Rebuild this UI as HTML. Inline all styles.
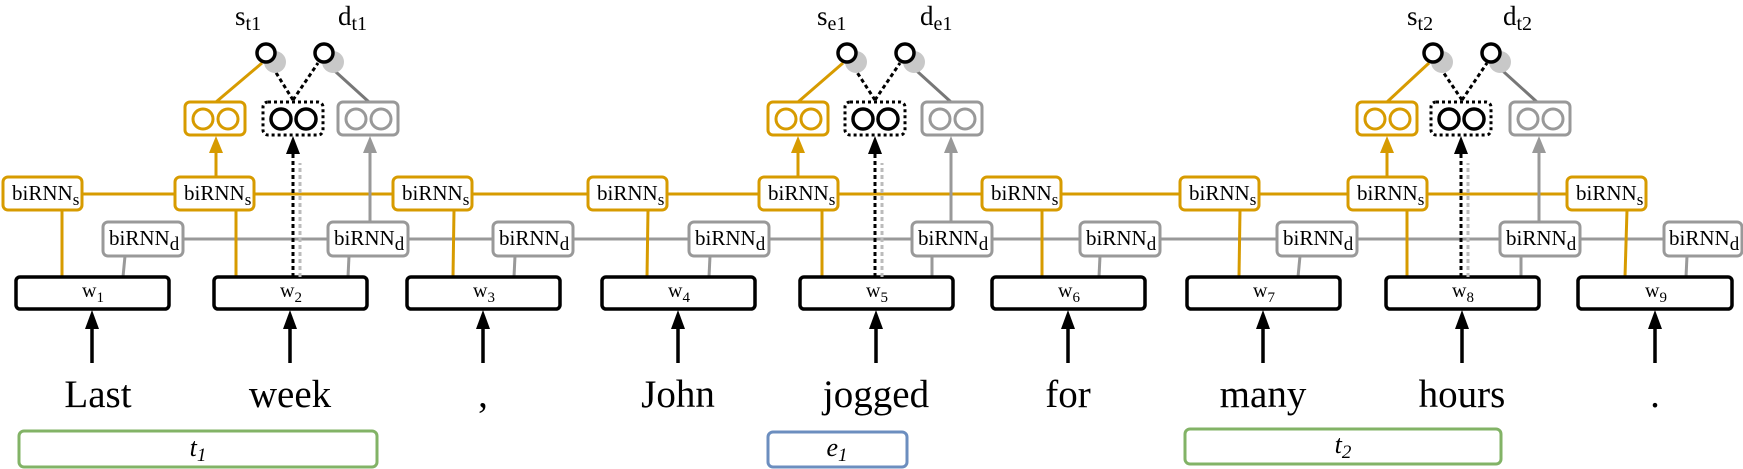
<!DOCTYPE html>
<html><head><meta charset="utf-8"><style>
html,body{margin:0;padding:0;background:#fff;}
svg{display:block;font-family:"Liberation Serif","Times New Roman",Times,serif;}
svg text{font-family:"Liberation Serif","Times New Roman",Times,serif;}
</style></head><body>
<svg width="1743" height="469" viewBox="0 0 1743 469" xmlns="http://www.w3.org/2000/svg" font-family="Liberation Serif, Times New Roman, Times, serif">
<g fill="none" stroke-width="3">
<line x1="40" y1="194" x2="1610" y2="194" stroke="#d79b00"/>
<line x1="140" y1="239" x2="1700" y2="239" stroke="#999"/>
<g stroke="#d79b00">
<line x1="62" y1="210" x2="62" y2="277"/>
<line x1="236" y1="210" x2="236" y2="277"/>
<line x1="454" y1="210" x2="453" y2="277"/>
<line x1="648" y1="210" x2="647" y2="277"/>
<line x1="822" y1="210" x2="822" y2="277"/>
<line x1="1042" y1="210" x2="1042" y2="277"/>
<line x1="1240" y1="210" x2="1239" y2="277"/>
<line x1="1407" y1="210" x2="1407" y2="277"/>
<line x1="1627" y1="210" x2="1625" y2="277"/>
</g>
<g stroke="#999">
<line x1="125" y1="256" x2="123" y2="277"/>
<line x1="349" y1="256" x2="348" y2="277"/>
<line x1="515" y1="256" x2="514" y2="277"/>
<line x1="710" y1="256" x2="709" y2="277"/>
<line x1="932" y1="256" x2="932" y2="277"/>
<line x1="1100" y1="256" x2="1099" y2="277"/>
<line x1="1300" y1="256" x2="1298" y2="277"/>
<line x1="1521" y1="256" x2="1521" y2="277"/>
<line x1="1687" y1="256" x2="1686" y2="277"/>
</g>
</g>

<g font-size="21">
<g fill="#fff" stroke="#d79b00" stroke-width="3">
<rect x="3" y="177" width="79" height="33" rx="5"/>
<rect x="175" y="177" width="79" height="33" rx="5"/>
<rect x="393" y="177" width="79" height="33" rx="5"/>
<rect x="588" y="177" width="79" height="33" rx="5"/>
<rect x="759" y="177" width="79" height="33" rx="5"/>
<rect x="982" y="177" width="79" height="33" rx="5"/>
<rect x="1180" y="177" width="79" height="33" rx="5"/>
<rect x="1348" y="177" width="79" height="33" rx="5"/>
<rect x="1567" y="177" width="79" height="33" rx="5"/>
</g>
<g fill="#000">
<text x="12" y="200">biRNN<tspan font-size="17" dy="5">s</tspan></text>
<text x="184" y="200">biRNN<tspan font-size="17" dy="5">s</tspan></text>
<text x="402" y="200">biRNN<tspan font-size="17" dy="5">s</tspan></text>
<text x="597" y="200">biRNN<tspan font-size="17" dy="5">s</tspan></text>
<text x="768" y="200">biRNN<tspan font-size="17" dy="5">s</tspan></text>
<text x="991" y="200">biRNN<tspan font-size="17" dy="5">s</tspan></text>
<text x="1189" y="200">biRNN<tspan font-size="17" dy="5">s</tspan></text>
<text x="1357" y="200">biRNN<tspan font-size="17" dy="5">s</tspan></text>
<text x="1576" y="200">biRNN<tspan font-size="17" dy="5">s</tspan></text>
</g>
<g fill="#fff" stroke="#999" stroke-width="3">
<rect x="103" y="222" width="80" height="34" rx="5"/>
<rect x="328" y="222" width="80" height="34" rx="5"/>
<rect x="493" y="222" width="80" height="34" rx="5"/>
<rect x="689" y="222" width="80" height="34" rx="5"/>
<rect x="912" y="222" width="80" height="34" rx="5"/>
<rect x="1080" y="222" width="80" height="34" rx="5"/>
<rect x="1277" y="222" width="80" height="34" rx="5"/>
<rect x="1500" y="222" width="80" height="34" rx="5"/>
<rect x="1664" y="222" width="78" height="34" rx="5"/>
</g>
<g fill="#000">
<text x="109" y="245">biRNN<tspan font-size="19" dy="5">d</tspan></text>
<text x="334" y="245">biRNN<tspan font-size="19" dy="5">d</tspan></text>
<text x="499" y="245">biRNN<tspan font-size="19" dy="5">d</tspan></text>
<text x="695" y="245">biRNN<tspan font-size="19" dy="5">d</tspan></text>
<text x="918" y="245">biRNN<tspan font-size="19" dy="5">d</tspan></text>
<text x="1086" y="245">biRNN<tspan font-size="19" dy="5">d</tspan></text>
<text x="1283" y="245">biRNN<tspan font-size="19" dy="5">d</tspan></text>
<text x="1506" y="245">biRNN<tspan font-size="19" dy="5">d</tspan></text>
<text x="1669" y="245">biRNN<tspan font-size="19" dy="5">d</tspan></text>
</g>
</g>

<g fill="#fff" stroke="#000" stroke-width="3.5">
<rect x="16" y="277" width="153" height="32" rx="4"/>
<rect x="214" y="277" width="153" height="32" rx="4"/>
<rect x="407" y="277" width="153" height="32" rx="4"/>
<rect x="602" y="277" width="153" height="32" rx="4"/>
<rect x="800" y="277" width="153" height="32" rx="4"/>
<rect x="992" y="277" width="153" height="32" rx="4"/>
<rect x="1187" y="277" width="153" height="32" rx="4"/>
<rect x="1386" y="277" width="153" height="32" rx="4"/>
<rect x="1578" y="277" width="154" height="32" rx="4"/>
</g>
<g font-size="20" fill="#000">
<text x="82" y="297">w<tspan font-size="15" dy="5">1</tspan></text>
<text x="280" y="297">w<tspan font-size="15" dy="5">2</tspan></text>
<text x="473" y="297">w<tspan font-size="15" dy="5">3</tspan></text>
<text x="668" y="297">w<tspan font-size="15" dy="5">4</tspan></text>
<text x="866" y="297">w<tspan font-size="15" dy="5">5</tspan></text>
<text x="1058" y="297">w<tspan font-size="15" dy="5">6</tspan></text>
<text x="1253" y="297">w<tspan font-size="15" dy="5">7</tspan></text>
<text x="1452" y="297">w<tspan font-size="15" dy="5">8</tspan></text>
<text x="1645" y="297">w<tspan font-size="15" dy="5">9</tspan></text>
</g>

<g stroke="#000" stroke-width="3.5">
<line x1="92" y1="363" x2="92" y2="325"/>
<line x1="290" y1="363" x2="290" y2="325"/>
<line x1="483" y1="363" x2="483" y2="325"/>
<line x1="678" y1="363" x2="678" y2="325"/>
<line x1="876" y1="363" x2="876" y2="325"/>
<line x1="1068" y1="363" x2="1068" y2="325"/>
<line x1="1263" y1="363" x2="1263" y2="325"/>
<line x1="1462" y1="363" x2="1462" y2="325"/>
<line x1="1655" y1="363" x2="1655" y2="325"/>
</g>
<g fill="#000">
<path d="M85,329 L92,310 L99,329Z"/>
<path d="M283,329 L290,310 L297,329Z"/>
<path d="M476,329 L483,310 L490,329Z"/>
<path d="M671,329 L678,310 L685,329Z"/>
<path d="M869,329 L876,310 L883,329Z"/>
<path d="M1061,329 L1068,310 L1075,329Z"/>
<path d="M1256,329 L1263,310 L1270,329Z"/>
<path d="M1455,329 L1462,310 L1469,329Z"/>
<path d="M1648,329 L1655,310 L1662,329Z"/>
</g>

<g font-size="39" fill="#000" text-anchor="middle">
<text x="98" y="407">Last</text>
<text x="290" y="407">week</text>
<text x="483" y="407">,</text>
<text x="678" y="407">John</text>
<text x="876" y="407">jogged</text>
<text x="1068" y="407">for</text>
<text x="1263" y="407">many</text>
<text x="1462" y="407">hours</text>
<text x="1655" y="407">.</text>
</g>

<g fill="#fff" stroke-width="3">
<rect x="19" y="431" width="358" height="36" rx="5" stroke="#82b366"/>
<rect x="768" y="432" width="139" height="35" rx="5" stroke="#6c8ebf"/>
<rect x="1185" y="429" width="316" height="35" rx="5" stroke="#82b366"/>
</g>
<g font-size="26" font-style="italic" fill="#000" text-anchor="middle">
<text x="198" y="456">t<tspan font-size="19" dy="5">1</tspan></text>
<text x="837" y="456">e<tspan font-size="19" dy="5">1</tspan></text>
<text x="1343" y="453">t<tspan font-size="19" dy="5">2</tspan></text>
</g>

<g stroke-width="3" fill="none">
<line x1="216" y1="177" x2="216" y2="150" stroke="#d79b00"/>
<path d="M209,153 L216,136 L223,153Z" fill="#d79b00" stroke="none"/>
<line x1="370" y1="222" x2="370" y2="150" stroke="#999"/>
<path d="M363,153 L370,136 L377,153Z" fill="#999" stroke="none"/>
<line x1="300" y1="277" x2="300" y2="163" stroke="#bbb" stroke-dasharray="4,3"/>
<line x1="293" y1="277" x2="293" y2="152" stroke="#000" stroke-dasharray="4,3"/>
<path d="M286,154 L293,136 L300,154Z" fill="#000" stroke="none"/>
<line x1="216" y1="102" x2="262" y2="63" stroke="#d79b00"/>
<line x1="369" y1="102" x2="326" y2="63" stroke="#777"/>
<line x1="293" y1="100" x2="270" y2="63" stroke="#000" stroke-dasharray="4,3"/>
<line x1="293" y1="100" x2="318" y2="63" stroke="#000" stroke-dasharray="4,3"/>
<circle cx="275" cy="62" r="11" fill="#c8c8c8" stroke="none"/>
<circle cx="333" cy="62" r="11" fill="#c8c8c8" stroke="none"/>
<circle cx="266" cy="53" r="9" fill="#fff" stroke="#000" stroke-width="3.5"/>
<circle cx="324" cy="53" r="9" fill="#fff" stroke="#000" stroke-width="3.5"/>
<rect x="185" y="102" width="60" height="33" rx="5" fill="#fff" stroke="#d79b00"/>
<circle cx="203" cy="119" r="10" stroke="#d79b00"/><circle cx="228" cy="119" r="10" stroke="#d79b00"/>
<rect x="263" y="102" width="60" height="33" rx="5" fill="#fff" stroke="#000" stroke-dasharray="3,3"/>
<circle cx="281" cy="119" r="10" stroke="#000" stroke-width="3.5"/><circle cx="306" cy="119" r="10" stroke="#000" stroke-width="3.5"/>
<rect x="338" y="102" width="60" height="33" rx="5" fill="#fff" stroke="#999"/>
<circle cx="356" cy="119" r="10" stroke="#999"/><circle cx="381" cy="119" r="10" stroke="#999"/>

<line x1="798" y1="177" x2="798" y2="150" stroke="#d79b00"/>
<path d="M791,153 L798,136 L805,153Z" fill="#d79b00" stroke="none"/>
<line x1="951" y1="222" x2="951" y2="150" stroke="#999"/>
<path d="M944,153 L951,136 L958,153Z" fill="#999" stroke="none"/>
<line x1="882" y1="277" x2="882" y2="163" stroke="#bbb" stroke-dasharray="4,3"/>
<line x1="875" y1="277" x2="875" y2="152" stroke="#000" stroke-dasharray="4,3"/>
<path d="M868,154 L875,136 L882,154Z" fill="#000" stroke="none"/>
<line x1="798" y1="102" x2="843" y2="63" stroke="#d79b00"/>
<line x1="951" y1="102" x2="908" y2="63" stroke="#777"/>
<line x1="875" y1="100" x2="851" y2="63" stroke="#000" stroke-dasharray="4,3"/>
<line x1="875" y1="100" x2="900" y2="63" stroke="#000" stroke-dasharray="4,3"/>
<circle cx="856" cy="62" r="11" fill="#c8c8c8" stroke="none"/>
<circle cx="914" cy="62" r="11" fill="#c8c8c8" stroke="none"/>
<circle cx="847" cy="53" r="9" fill="#fff" stroke="#000" stroke-width="3.5"/>
<circle cx="905" cy="53" r="9" fill="#fff" stroke="#000" stroke-width="3.5"/>
<rect x="768" y="102" width="60" height="33" rx="5" fill="#fff" stroke="#d79b00"/>
<circle cx="786" cy="119" r="10" stroke="#d79b00"/><circle cx="811" cy="119" r="10" stroke="#d79b00"/>
<rect x="845" y="102" width="60" height="33" rx="5" fill="#fff" stroke="#000" stroke-dasharray="3,3"/>
<circle cx="863" cy="119" r="10" stroke="#000" stroke-width="3.5"/><circle cx="888" cy="119" r="10" stroke="#000" stroke-width="3.5"/>
<rect x="922" y="102" width="60" height="33" rx="5" fill="#fff" stroke="#999"/>
<circle cx="940" cy="119" r="10" stroke="#999"/><circle cx="965" cy="119" r="10" stroke="#999"/>

<line x1="1387" y1="177" x2="1387" y2="150" stroke="#d79b00"/>
<path d="M1380,153 L1387,136 L1394,153Z" fill="#d79b00" stroke="none"/>
<line x1="1539" y1="222" x2="1539" y2="150" stroke="#999"/>
<path d="M1532,153 L1539,136 L1546,153Z" fill="#999" stroke="none"/>
<line x1="1468" y1="277" x2="1468" y2="163" stroke="#bbb" stroke-dasharray="4,3"/>
<line x1="1461" y1="277" x2="1461" y2="152" stroke="#000" stroke-dasharray="4,3"/>
<path d="M1454,154 L1461,136 L1468,154Z" fill="#000" stroke="none"/>
<line x1="1387" y1="102" x2="1429" y2="63" stroke="#d79b00"/>
<line x1="1537" y1="102" x2="1494" y2="63" stroke="#777"/>
<line x1="1462" y1="100" x2="1437" y2="63" stroke="#000" stroke-dasharray="4,3"/>
<line x1="1462" y1="100" x2="1487" y2="63" stroke="#000" stroke-dasharray="4,3"/>
<circle cx="1442" cy="62" r="11" fill="#c8c8c8" stroke="none"/>
<circle cx="1500" cy="62" r="11" fill="#c8c8c8" stroke="none"/>
<circle cx="1433" cy="53" r="9" fill="#fff" stroke="#000" stroke-width="3.5"/>
<circle cx="1491" cy="53" r="9" fill="#fff" stroke="#000" stroke-width="3.5"/>
<rect x="1357" y="102" width="60" height="33" rx="5" fill="#fff" stroke="#d79b00"/>
<circle cx="1375" cy="119" r="10" stroke="#d79b00"/><circle cx="1400" cy="119" r="10" stroke="#d79b00"/>
<rect x="1431" y="102" width="60" height="33" rx="5" fill="#fff" stroke="#000" stroke-dasharray="3,3"/>
<circle cx="1449" cy="119" r="10" stroke="#000" stroke-width="3.5"/><circle cx="1474" cy="119" r="10" stroke="#000" stroke-width="3.5"/>
<rect x="1510" y="102" width="60" height="33" rx="5" fill="#fff" stroke="#999"/>
<circle cx="1528" cy="119" r="10" stroke="#999"/><circle cx="1553" cy="119" r="10" stroke="#999"/>
</g>

<g font-size="27" fill="#000">
<text x="235" y="25">s<tspan font-size="20" dy="5">t1</tspan></text>
<text x="338" y="25">d<tspan font-size="20" dy="5">t1</tspan></text>
<text x="817" y="25">s<tspan font-size="20" dy="5">e1</tspan></text>
<text x="920" y="25">d<tspan font-size="20" dy="5">e1</tspan></text>
<text x="1407" y="25">s<tspan font-size="20" dy="5">t2</tspan></text>
<text x="1503" y="25">d<tspan font-size="20" dy="5">t2</tspan></text>
</g>
</svg>
</body></html>
